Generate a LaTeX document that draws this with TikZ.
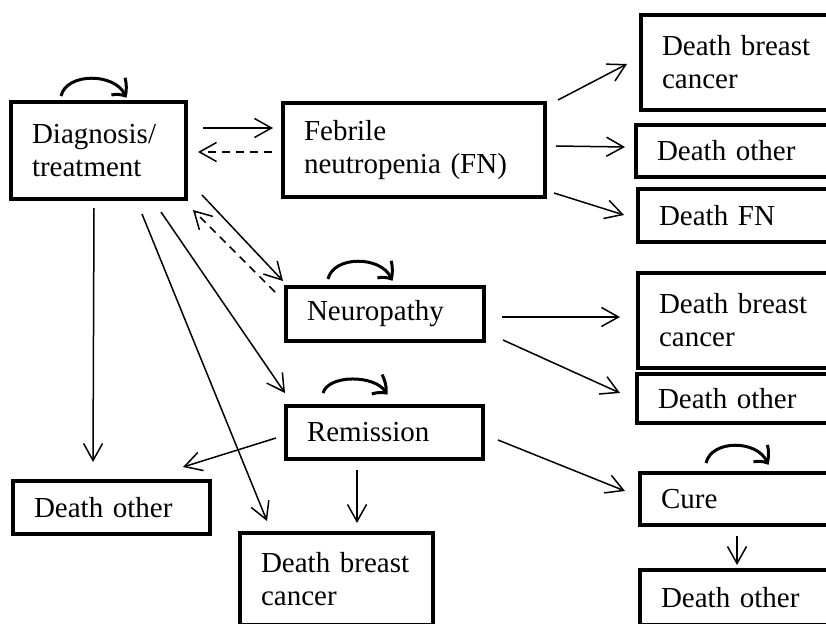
\documentclass[tikz,border=0pt]{standalone}
\usepackage{fontspec}
\setmainfont{Liberation Serif}
\usetikzlibrary{arrows.meta,bending,positioning,calc}

\begin{document}
\begin{tikzpicture}[x=1pt,y=-1pt,
    state/.style={draw, line width=3.5pt, anchor=north west, align=left,
        inner xsep=21pt, inner ysep=2pt, outer sep=0pt,
        font=\fontsize{29}{33}\selectfont},
    arr/.style={line width=1.5pt, -{Straight Barb[length=17pt,width=19pt]}},
    back/.style={arr, dash pattern=on 8pt off 6pt},
    selfloop/.style={line width=3pt, -{Straight Barb[length=12pt,width=22pt,bend]}}]
        \useasboundingbox (0,0) rectangle (826,623);
        \clip (0,0) rectangle (826,623);
        % states
        \node[state, text width=133pt, minimum height=97pt] (diag) at (11,102) {Diagnosis/\\treatment};
        \node[state, text width=220pt, minimum height=94pt] (fn) at (283,103) {Febrile\\neutropenia (FN)};
        \node[state, text width=156pt, minimum height=54pt] (neuro) at (286,287) {Neuropathy};
        \node[state, text width=155pt, minimum height=53pt] (remis) at (286,406) {Remission};
        \node[state, text width=155pt, minimum height=53pt] (dothL) at (13,481) {Death other};
        \node[state, text width=151pt, minimum height=92pt] (dbcB) at (240,533) {Death breast\\cancer};
        \node[state, text width=178pt, minimum height=95pt] (dbcFN) at (641,15) {Death breast\\cancer};
        \node[state, text width=178pt, minimum height=52pt] (dothFN) at (636,125) {Death other};
        \node[state, text width=178pt, minimum height=53pt] (dfn) at (638,189) {Death FN};
        \node[state, text width=178pt, minimum height=95pt] (dbcN) at (638,273) {Death breast\\cancer};
        \node[state, text width=178pt, minimum height=49pt] (dothN) at (637,374) {Death other};
        \node[state, text width=178pt, minimum height=52pt] (cure) at (640,473) {Cure};
        \node[state, text width=178pt, minimum height=55pt] (dothC) at (640,570) {Death other};

        % staying in a state
        \draw[selfloop] ($(diag.north west)+(50,-6)$) .. controls +(6,-25) and +(-6,-25) .. ($(diag.north west)+(115,-4)$);
        \draw[selfloop] ($(neuro.north west)+(42,-8)$) .. controls +(6,-25) and +(-6,-25) .. ($(neuro.north west)+(106,-6)$);
        \draw[selfloop] ($(remis.north west)+(37,-13)$) .. controls +(6,-20) and +(-6,-20) .. ($(remis.north west)+(101,-11)$);
        \draw[selfloop] ($(cure.north west)+(66,-10)$) .. controls +(6,-25) and +(-6,-25) .. ($(cure.north west)+(128,-8)$);

        % transitions
        \draw[arr] ($(diag.north east)+(17,26)$) -- ($(fn.north west)+(-10,25)$);
        \draw[back] ($(fn.north west)+(-11,49)$) -- ($(diag.north east)+(12,50)$);
        \draw[arr] ($(fn.north east)+(13,-3)$) -- ($(dbcFN.south west)+(-14,-46)$);
        \draw[arr] ($(fn.north east)+(11,43)$) -- ($(dothFN.north west)+(-11,22)$);
        \draw[arr] ($(fn.south east)+(9,-4)$) -- ($(dfn.north west)+(-14,26)$);
        \draw[arr] ($(diag.south east)+(16,-4)$) -- ($(neuro.north west)+(-3,-6)$);
        \draw[back] ($(neuro.north west)+(-11,5)$) -- ($(diag.south east)+(7,11)$);
        \draw[arr] ($(diag.south west)+(83,9)$) -- ($(dothL.north west)+(80,-19)$);
        \draw[arr] ($(diag.south west)+(131,15)$) -- ($(dbcB.north west)+(27,-12)$);
        \draw[arr] ($(diag.south west)+(150,13)$) -- ($(remis.north west)+(-1,-13)$);
        \draw[arr] ($(neuro.north east)+(18,30)$) -- ($(dbcN.north west)+(-18,44)$);
        \draw[arr] ($(neuro.south east)+(19,-1)$) -- ($(dothN.north west)+(-17,19)$);
        \draw[arr] ($(remis.north west)+(-10,32)$) -- ($(dothL.north east)+(-27,-14)$);
        \draw[arr] ($(remis.south west)+(71,11)$) -- ($(dbcB.north west)+(117,-10)$);
        \draw[arr] ($(remis.north east)+(15,34)$) -- ($(cure.north west)+(-15,18)$);
        \draw[arr] ($(cure.south west)+(97,11)$) -- ($(dothC.north west)+(97,-5)$);
    \end{tikzpicture}
\end{document}
